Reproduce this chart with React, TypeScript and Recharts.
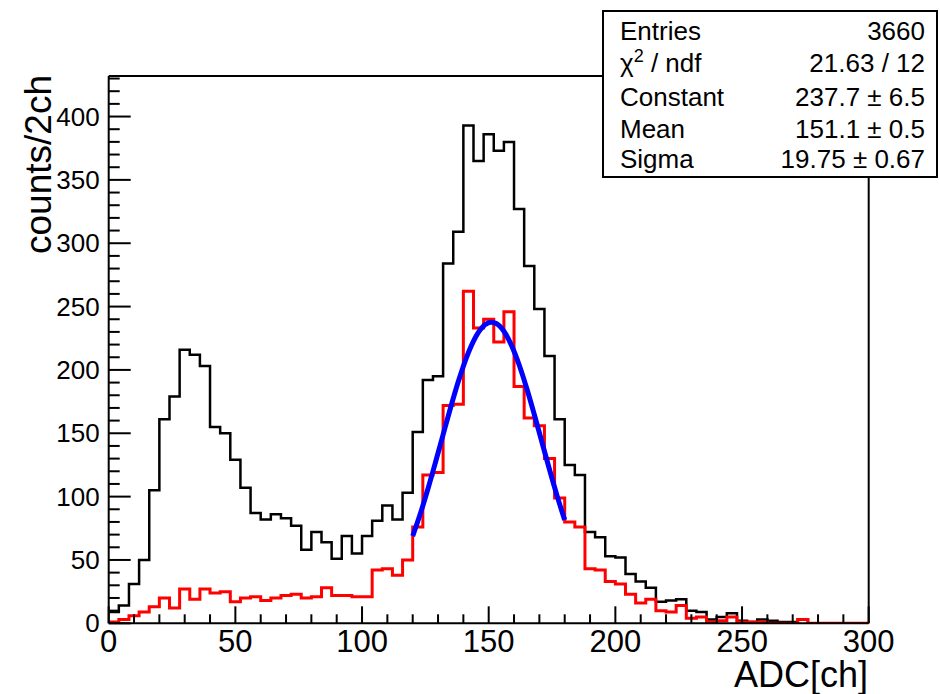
import React from 'react';
import { ComposedChart, Line, XAxis, YAxis, ReferenceLine } from 'recharts';

// Histogram bins: 4 ADC channels each, 0..300
const binWidth = 4;
const blackCounts = [
  9, 14, 31, 50, 105, 161, 179, 216, 212, 203,
  155, 150, 129, 107, 87, 82, 86, 83, 77, 58,
  72, 64, 51, 69, 55, 69, 81, 93, 82, 103,
  151, 192, 195, 284, 309, 393, 365, 386, 373, 380,
  327, 282, 248, 211, 161, 125, 117, 72, 68, 53,
  52, 39, 33, 28, 17, 18, 19, 10, 9, 3,
  5, 8, 2, 1, 3, 2, 1, 1, 3, 0,
  0, 0, 0, 0, 0,
];
const redCounts = [
  1, 3, 6, 9, 13, 20, 12, 27, 19, 27,
  24, 25, 17, 20, 21, 18, 20, 22, 23, 20,
  21, 28, 22, 22, 21, 21, 42, 43, 38, 50,
  76, 117, 119, 172, 173, 262, 233, 240, 222, 246,
  187, 162, 156, 130, 99, 80, 76, 43, 42, 33,
  31, 23, 16, 19, 10, 9, 14, 4, 5, 1,
  2, 5, 1, 1, 1, 0, 0, 0, 3, 0,
  0, 0, 0, 0, 0,
];
// Fit curve (gaussian) points
const fitX = [120, 123, 126, 129, 132, 135, 138, 141, 144, 147, 150, 151, 153, 156, 159, 162, 165, 168, 171, 174, 177, 180];
const fitY = [68.8, 86.4, 106.0, 127.1, 148.9, 170.5, 190.8, 208.6, 222.8, 232.6, 237.3, 237.7, 236.6, 230.5, 219.4, 204.1, 185.5, 164.8, 143.1, 121.4, 100.6, 81.5];

const xTicks = Array.from({ length: 31 }, (_, i) => i * 10);
const yTicks = Array.from({ length: 44 }, (_, i) => i * 10);

const statsLabels = ['Entries', 'χ2 / ndf', 'Constant', 'Mean', 'Sigma'];
const statsValues = ['3660', '21.63 / 12', '237.7 ± 6.5', '151.1 ± 0.5', '19.75 ± 0.67'];

const xTitle = 'ADC[ch]';
const yTitle = 'counts/2ch';

const FONT = '"Liberation Sans", Arial, Helvetica, sans-serif';

const toStep = (counts: number[]) => {
  const pts = counts.map((c, i) => ({ x: i * binWidth, y: c }));
  pts.push({ x: counts.length * binWidth, y: counts[counts.length - 1] });
  return pts;
};
const blackData = toStep(blackCounts);
const redData = toStep(redCounts);
const fitData = fitX.map((x, i) => ({ x, y: fitY[i] }));

const YTick = (props: any) => {
  const { x, y, payload } = props;
  const v = payload.value;
  const major = v % 50 === 0;
  return (
    <g>
      <line x1={x} x2={x + (major ? 22 : 11)} y1={y} y2={y} stroke="#000" strokeWidth={2} />
      {major && v <= 400 ? (
        <text x={x - 9} y={y + 9} textAnchor="end" fontSize={26} fontFamily={FONT} fill="#000">
          {v}
        </text>
      ) : null}
    </g>
  );
};

const XTick = (props: any) => {
  const { x, y, payload } = props;
  const v = payload.value;
  const major = v % 50 === 0;
  return (
    <g>
      <line x1={x} x2={x} y1={y} y2={y - (major ? 17 : 9)} stroke="#000" strokeWidth={2} />
      {major ? (
        <text x={x} y={y + 29} textAnchor="middle" fontSize={31} fontFamily={FONT} fill="#000">
          {v}
        </text>
      ) : null}
    </g>
  );
};

export default function App() {
  const W = 940;
  const H = 694;
  const plotLeft = 108.7;
  const plotRight = 868.7;
  const plotTop = 76;
  const plotBottom = 623.3;
  const yAxisW = 60;
  const xAxisH = 30;
  return (
    <div style={{ position: 'absolute', left: 0, top: 0, width: W, height: H, background: '#fff' }}>
      <ComposedChart
        width={W}
        height={H}
        margin={{
          top: plotTop,
          right: W - plotRight,
          left: plotLeft - yAxisW,
          bottom: H - plotBottom - xAxisH,
        }}
      >
        <XAxis
          type="number"
          dataKey="x"
          domain={[0, 300]}
          ticks={xTicks}
          interval={0}
          tickSize={0}
          tickMargin={0}
          tickLine={false}
          height={xAxisH}
          axisLine={{ stroke: '#000', strokeWidth: 2 }}
          tick={<XTick />}
          allowDataOverflow
        />
        <YAxis
          type="number"
          domain={[0, 432]}
          ticks={yTicks}
          interval={0}
          tickSize={0}
          tickMargin={0}
          tickLine={false}
          width={yAxisW}
          axisLine={{ stroke: '#000', strokeWidth: 2 }}
          tick={<YTick />}
          allowDataOverflow
        />
        <ReferenceLine y={432} stroke="#000" strokeWidth={2} />
        <ReferenceLine x={300} stroke="#000" strokeWidth={2} />
        <Line
          data={blackData}
          dataKey="y"
          type="stepAfter"
          stroke="#000"
          strokeWidth={2.5}
          dot={false}
          isAnimationActive={false}
        />
        <Line
          data={redData}
          dataKey="y"
          type="stepAfter"
          stroke="#ff0000"
          strokeWidth={3}
          dot={false}
          isAnimationActive={false}
        />
        <Line
          data={fitData}
          dataKey="y"
          type="monotone"
          stroke="#0000ff"
          strokeWidth={5}
          dot={false}
          isAnimationActive={false}
        />
      </ComposedChart>
      <svg
        width={W}
        height={H}
        style={{ position: 'absolute', left: 0, top: 0, pointerEvents: 'none' }}
      >
        <text
          x={51}
          y={75}
          transform="rotate(-90, 51, 75)"
          textAnchor="end"
          fontSize={37}
          fontFamily={FONT}
          fill="#000"
        >
          {yTitle}
        </text>
        <text x={868} y={687} textAnchor="end" fontSize={36} fontFamily={FONT} fill="#000">
          {xTitle}
        </text>
        <rect x={603} y={11} width={334} height={166} fill="#fff" stroke="#000" strokeWidth={2} />
        {statsLabels.map((l, i) => {
          const yy = [40, 72, 106, 138, 168][i];
          return (
            <g key={l}>
              <text x={620} y={yy} fontSize={26} fontFamily={FONT} fill="#000">
                {l === 'χ2 / ndf' ? (
                  <>
                    χ<tspan dy={-10} fontSize={18}>2</tspan>
                    <tspan dy={10}> / ndf</tspan>
                  </>
                ) : (
                  l
                )}
              </text>
              <text x={925} y={yy} textAnchor="end" fontSize={26} fontFamily={FONT} fill="#000">
                {statsValues[i]}
              </text>
            </g>
          );
        })}
      </svg>
    </div>
  );
}
